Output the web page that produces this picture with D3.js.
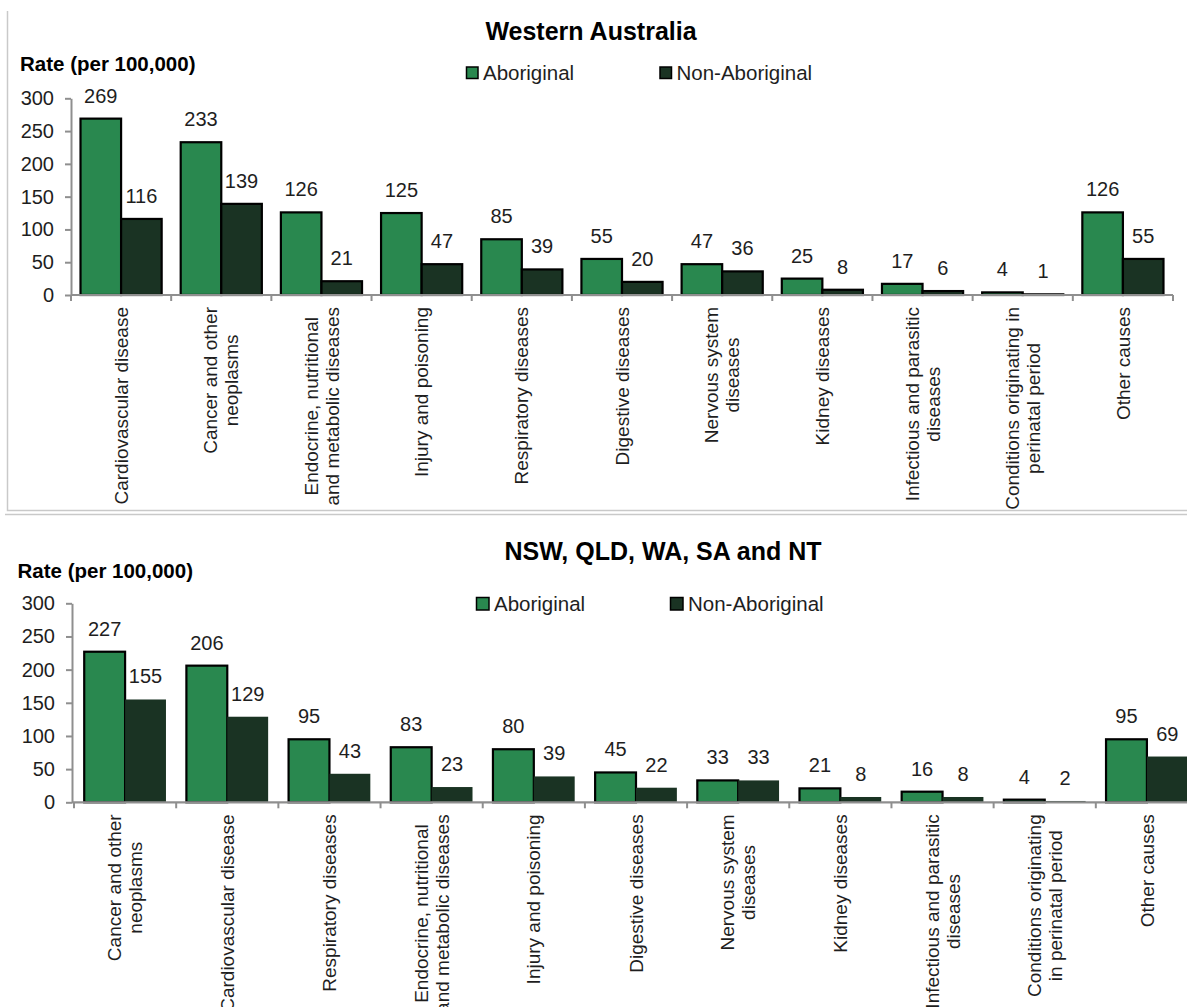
<!DOCTYPE html>
<html><head><meta charset="utf-8">
<script src="https://cdn.jsdelivr.net/npm/d3@7"></script>
<style>
body{margin:0;background:#fff}
svg{display:block}
text{font-family:"Liberation Sans",Arial,sans-serif;fill:#1e1e1e}
</style>
</head><body>
<svg id="c" width="1187" height="1007"></svg>
<script>
const seriesNames = ["Aboriginal", "Non-Aboriginal"];
const yTicks = [0, 50, 100, 150, 200, 250, 300];
const yLabel = "Rate (per 100,000)";

const waTitle = "Western Australia";
const waCategories = [
  "Cardiovascular disease",
  "Cancer and other\nneoplasms",
  "Endocrine, nutritional\nand metabolic diseases",
  "Injury and poisoning",
  "Respiratory diseases",
  "Digestive diseases",
  "Nervous system\ndiseases",
  "Kidney diseases",
  "Infectious and parasitic\ndiseases",
  "Conditions originating in\nperinatal period",
  "Other causes"
];
const waAboriginal    = [269, 233, 126, 125, 85, 55, 47, 25, 17, 4, 126];
const waNonAboriginal = [116, 139, 21, 47, 39, 20, 36, 8, 6, 1, 55];

const combTitle = "NSW, QLD, WA, SA and NT";
const combCategories = [
  "Cancer and other\nneoplasms",
  "Cardiovascular disease",
  "Respiratory diseases",
  "Endocrine, nutritional\nand metabolic diseases",
  "Injury and poisoning",
  "Digestive diseases",
  "Nervous system\ndiseases",
  "Kidney diseases",
  "Infectious and parasitic\ndiseases",
  "Conditions originating\nin perinatal period",
  "Other causes"
];
const combAboriginal    = [227, 206, 95, 83, 80, 45, 33, 21, 16, 4, 95];
const combNonAboriginal = [155, 129, 43, 23, 39, 22, 33, 8, 8, 2, 69];

const colors = ["#29884F", "#1A3323"];
const axisColor = "#8f8f8f";

const svg = d3.select("#c");

// frame lines
svg.append("path").attr("d", "M7.5,11 V510.5 H1187")
  .attr("fill", "none").attr("stroke", "#c9c9c9").attr("stroke-width", 1.5);
svg.append("line").attr("x1", 5).attr("x2", 1187).attr("y1", 514.5).attr("y2", 514.5)
  .attr("stroke", "#c9c9c9").attr("stroke-width", 1.5);

function drawPanel(o) {
  const g = svg.append("g");
  const x0 = d3.scaleBand().domain(o.categories).range([o.xStart, o.xEnd])
    .paddingInner(o.padInner).paddingOuter(o.padInner / 2);
  const x1 = d3.scaleBand().domain(seriesNames).range([0, x0.bandwidth()]);
  const y = d3.scaleLinear().domain([0, 300]).range([o.yBottom, o.yTop]);

  // title
  g.append("text").attr("x", o.titleX).attr("y", o.titleY).attr("text-anchor", "middle")
    .style("font-size", "25px").style("font-weight", "bold").style("fill", "#000").text(o.title);
  // y label
  g.append("text").attr("x", o.yLabelX).attr("y", o.yLabelY)
    .style("font-size", "20.5px").style("font-weight", "bold").style("fill", "#000").text(yLabel);

  // legend
  seriesNames.forEach((s, i) => {
    g.append("rect").attr("x", o.legendX[i]).attr("y", o.legendY - o.legendSq)
      .attr("width", o.legendSq).attr("height", o.legendSq)
      .attr("fill", colors[i]).attr("stroke", "#000").attr("stroke-width", 1.5);
    g.append("text").attr("x", o.legendX[i] + o.legendSq + 5).attr("y", o.legendY + 1)
      .style("font-size", "20.5px").text(s);
  });

  // y axis
  const ya = g.append("g").attr("transform", `translate(${o.axisX},0)`)
    .call(d3.axisLeft(y).tickValues(yTicks).tickSize(6).tickSizeOuter(0).tickPadding(11));
  ya.select(".domain").attr("stroke", axisColor).attr("stroke-width", 2);
  ya.selectAll(".tick line").attr("stroke", axisColor).attr("stroke-width", 2);
  ya.selectAll(".tick text").style("font-size", "20px").attr("fill", "#1e1e1e")
    .style("font-family", "'Liberation Sans',Arial,sans-serif");

  // bars
  const vals = [o.ab, o.non];
  const groups = g.selectAll(".grp").data(o.categories).join("g")
    .attr("transform", d => `translate(${x0(d)},0)`);
  groups.each(function (c, ci) {
    const gg = d3.select(this);
    seriesNames.forEach((s, si) => {
      const v = vals[si][ci];
      gg.append("rect").attr("x", x1(s)).attr("y", y(v))
        .attr("width", x1.bandwidth()).attr("height", y(0) - y(v))
        .attr("fill", colors[si])
        .attr("stroke", o.stroke[si] ? "#000" : "none").attr("stroke-width", 2.2);
      gg.append("text").attr("x", x1(s) + x1.bandwidth() / 2).attr("y", y(v) - 16)
        .attr("text-anchor", "middle").style("font-size", "20px").text(v);
    });
  });

  // x axis line and ticks
  const step = x0.step();
  g.append("line").attr("x1", o.axisX).attr("x2", o.xEnd).attr("y1", y(0)).attr("y2", y(0))
    .attr("stroke", axisColor).attr("stroke-width", 2.2);
  d3.range(o.categories.length + 1).forEach(i => {
    const xx = o.xStart + i * step;
    g.append("line").attr("x1", xx).attr("x2", xx).attr("y1", y(0)).attr("y2", y(0) + 6)
      .attr("stroke", axisColor).attr("stroke-width", 2);
  });

  // category labels (rotated)
  const lineH = 21;
  o.categories.forEach(c => {
    const lines = c.split("\n");
    const cx = x0(c) + x0.bandwidth() / 2;
    const t = g.append("g").attr("transform", `translate(${cx},${y(0) + 12}) rotate(-90)`);
    const texts = lines.map((ln, li) =>
      t.append("text").attr("x", 0).attr("y", (li - (lines.length - 1) / 2) * lineH)
        .attr("dy", "0.35em").attr("text-anchor", "middle")
        .style("font-size", "19px").text(ln));
    const maxL = d3.max(texts, tx => tx.node().getComputedTextLength());
    texts.forEach(tx => tx.attr("x", -maxL / 2));
  });
}

drawPanel({
  title: waTitle, titleX: 591, titleY: 40,
  yLabelX: 20, yLabelY: 71,
  legendX: [466.5, 660], legendY: 78.5, legendSq: 11.5,
  categories: waCategories, ab: waAboriginal, non: waNonAboriginal,
  xStart: 71, xEnd: 1173, axisX: 71, padInner: 0.19,
  yTop: 98.3, yBottom: 295,
  stroke: [true, true]
});

drawPanel({
  title: combTitle, titleX: 663, titleY: 559.5,
  yLabelX: 17.5, yLabelY: 578,
  legendX: [476.5, 670.5], legendY: 610, legendSq: 12.5,
  categories: combCategories, ab: combAboriginal, non: combNonAboriginal,
  xStart: 74, xEnd: 1198, axisX: 72, padInner: 0.2,
  yTop: 603.3, yBottom: 802.3,
  stroke: [true, false]
});
</script>
</body></html>
